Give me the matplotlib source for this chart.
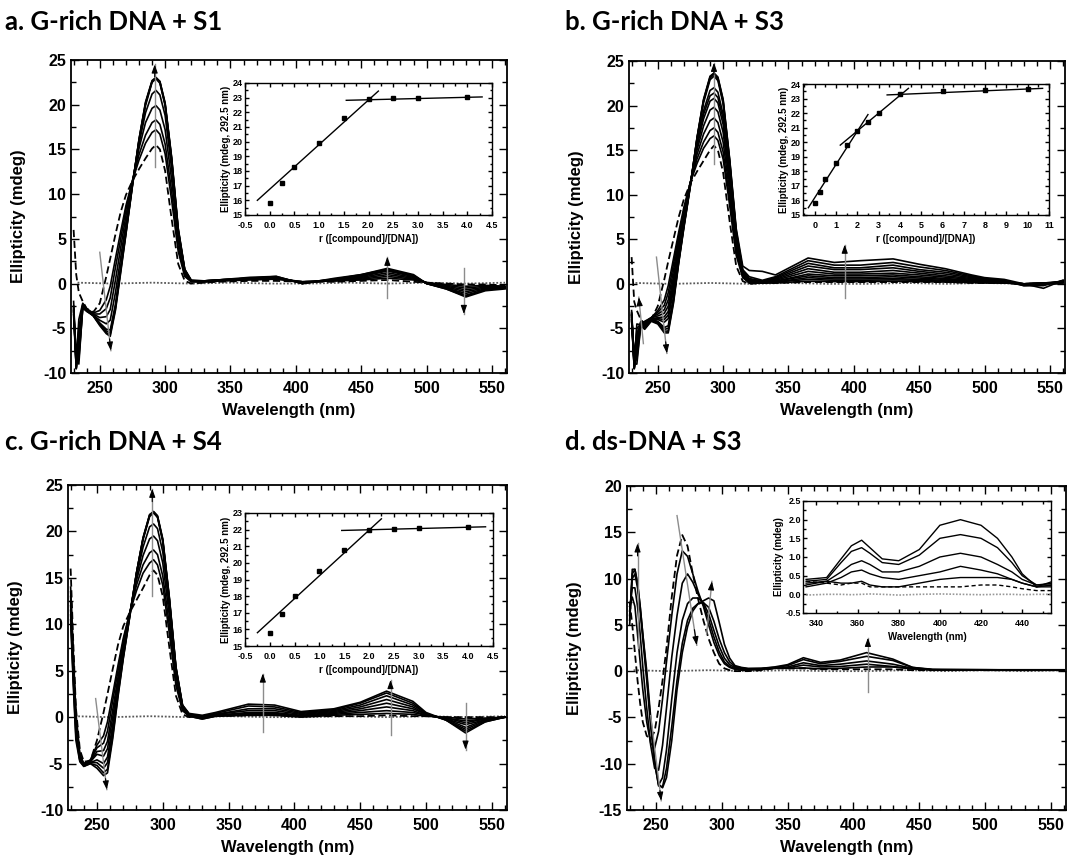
import matplotlib
matplotlib.use('Agg')
import matplotlib.pyplot as plt
from matplotlib.ticker import MultipleLocator, FormatStrFormatter

plt.rcParams['font.family'] = ['Liberation Sans', 'DejaVu Sans']
plt.rcParams['font.weight'] = 'bold'
plt.rcParams['axes.labelweight'] = 'bold'
plt.rcParams['axes.unicode_minus'] = False

# ---- wavelength grids (nm) ----
WL_G_UV = [230, 232, 234, 237, 240, 245, 250, 255, 258, 262, 266, 270, 275, 280,
           285, 290, 293, 296, 300, 305, 310, 315]
WL_G_VIS = [320, 330, 340, 365, 385, 405, 430, 450, 470, 490, 500, 515, 530, 545, 560]

# ---- a. G-rich DNA + S1 ----
A_DASH_UV = [6.0, 1.0, -1.0, -2.0, -2.8, -3.2, -2.2, 0.8, 2.8, 5.5, 8.0, 9.9, 11.5, 12.8,
             14.0, 15.1, 15.5, 15.0, 12.6, 7.2, 2.2, 0.3]
A_DASH_VIS = [0.0, 0.1, 0.2, 0.3, 0.3, 0.2, 0.2, 0.3, 0.4, 0.2, 0.1, 0.0, -0.1, -0.1, -0.2]
A_UV = [
    [-2.5, -8.5, -4.0, -2.2, -2.8, -3.3, -3.0, -1.8, -0.3, 2.8, 5.8, 8.7, 11.5, 13.8, 15.7, 16.9, 17.2, 16.7, 14.5, 9.3, 3.6, 0.8],
    [-3.0, -9.5, -6.0, -2.5, -2.9, -3.4, -3.4, -2.8, -1.6, 1.8, 5.0, 8.3, 11.5, 14.4, 16.6, 18.0, 18.3, 17.8, 15.6, 10.3, 4.1, 0.9],
    [-2.0, -9.0, -8.5, -2.8, -3.0, -3.4, -3.8, -3.7, -2.9, 0.4, 4.0, 7.6, 11.4, 15.1, 18.0, 19.6, 19.9, 19.4, 17.2, 11.6, 4.8, 1.1],
    [-3.5, -9.5, -5.0, -2.3, -3.0, -3.5, -4.1, -4.5, -4.1, -1.0, 2.9, 6.8, 11.3, 15.6, 19.1, 21.2, 21.6, 21.1, 18.8, 12.8, 5.4, 1.3],
    [-3.0, -8.0, -9.0, -2.6, -3.1, -3.5, -4.4, -5.1, -5.2, -2.3, 1.9, 6.0, 11.1, 15.9, 19.9, 22.5, 22.9, 22.4, 19.9, 13.7, 5.9, 1.5],
    [-2.8, -9.5, -7.0, -2.4, -3.0, -3.6, -4.5, -5.3, -5.5, -2.6, 1.6, 5.7, 11.0, 16.0, 20.1, 22.6, 23.0, 22.5, 20.0, 13.9, 6.0, 1.5],
    [-3.2, -9.0, -8.0, -2.7, -3.1, -3.6, -4.6, -5.5, -5.7, -2.8, 1.4, 5.6, 11.0, 16.1, 20.2, 22.6, 23.0, 22.6, 20.1, 14.0, 6.1, 1.6],
    [-2.6, -9.5, -6.5, -2.5, -3.0, -3.6, -4.7, -5.6, -5.9, -3.0, 1.2, 5.5, 10.9, 16.1, 20.3, 22.7, 23.05, 22.6, 20.2, 14.1, 6.2, 1.6],
]
A_VIS = [
    [0.2, 0.2, 0.3, 0.4, 0.5, 0.2, 0.3, 0.4, 0.6, 0.4, 0.1, -0.1, -0.3, -0.2, -0.3],
    [0.2, 0.2, 0.3, 0.5, 0.5, 0.2, 0.3, 0.5, 0.8, 0.5, 0.1, -0.2, -0.5, -0.3, -0.3],
    [0.3, 0.2, 0.3, 0.5, 0.6, 0.2, 0.4, 0.6, 1.0, 0.6, 0.1, -0.3, -0.7, -0.4, -0.4],
    [0.3, 0.3, 0.3, 0.5, 0.6, 0.1, 0.4, 0.7, 1.2, 0.7, 0.1, -0.4, -0.9, -0.5, -0.4],
    [0.3, 0.3, 0.4, 0.6, 0.7, 0.1, 0.5, 0.8, 1.4, 0.8, 0.0, -0.5, -1.1, -0.6, -0.5],
    [0.3, 0.3, 0.4, 0.6, 0.7, 0.0, 0.5, 0.9, 1.5, 0.9, 0.0, -0.5, -1.3, -0.7, -0.5],
    [0.3, 0.3, 0.4, 0.6, 0.8, 0.0, 0.5, 1.0, 1.6, 0.9, 0.0, -0.6, -1.4, -0.7, -0.5],
    [0.4, 0.3, 0.4, 0.7, 0.8, 0.0, 0.6, 1.0, 1.7, 1.0, 0.0, -0.6, -1.5, -0.8, -0.6],
]
A_ARROWS = [((292, 13.0), (292, 24.5)), ((250, 3.5), (258.5, -7.5)),
            ((470, -1.6), (470, 3.0)), ((528.5, 1.7), (528.5, -3.4))]

# ---- b. G-rich DNA + S3 ----
B_DASH_UV = [3.0, -2.0, -3.0, -4.0, -4.5, -4.0, -2.5, 0.5, 2.5, 5.0, 7.5, 9.5, 11.3, 12.6,
             13.8, 15.0, 15.5, 15.0, 12.5, 7.0, 2.0, 0.3]
B_DASH_VIS = [0.0, 0.1, 0.1, 0.2, 0.2, 0.2, 0.2, 0.2, 0.2, 0.1, 0.1, 0.1, 0.0, 0.0, 0.0]
B_UV = [
    [-3.5, -9.0, -5.0, -4.5, -4.2, -3.8, -3.0, -1.8, -0.2, 2.8, 5.8, 8.6, 11.4, 13.5, 15.2, 16.3, 16.6, 16.1, 14.0, 8.8, 3.2, 0.7],
    [-3.0, -8.5, -6.0, -4.3, -4.3, -3.8, -3.2, -2.4, -1.0, 2.2, 5.3, 8.3, 11.4, 14.0, 15.9, 17.2, 17.5, 17.0, 14.8, 9.5, 3.6, 0.8],
    [-4.0, -9.5, -4.5, -4.6, -4.4, -3.8, -3.4, -2.9, -1.8, 1.5, 4.8, 8.0, 11.4, 14.5, 16.8, 18.3, 18.6, 18.1, 15.9, 10.3, 4.0, 0.9],
    [-3.2, -9.0, -7.0, -4.2, -4.5, -3.8, -3.6, -3.3, -2.5, 0.8, 4.3, 7.7, 11.4, 15.0, 17.7, 19.5, 19.8, 19.3, 17.0, 11.1, 4.4, 1.0],
    [-3.8, -8.0, -5.5, -4.7, -4.6, -3.9, -3.8, -3.7, -3.1, 0.2, 3.9, 7.4, 11.3, 15.4, 18.5, 20.5, 20.8, 20.3, 17.9, 11.8, 4.8, 1.1],
    [-3.3, -9.5, -8.0, -4.4, -4.7, -3.9, -3.9, -4.0, -3.5, -0.3, 3.6, 7.2, 11.3, 15.6, 19.0, 21.1, 21.4, 20.9, 18.5, 12.2, 5.0, 1.2],
    [-4.2, -9.0, -6.5, -4.8, -4.8, -4.0, -4.0, -4.3, -3.9, -0.7, 3.3, 7.0, 11.2, 15.8, 19.4, 21.7, 22.0, 21.5, 19.0, 12.6, 5.2, 1.2],
    [-3.6, -9.5, -7.5, -4.3, -4.9, -4.0, -4.2, -4.9, -4.7, -1.5, 2.7, 6.6, 11.2, 16.2, 20.3, 22.9, 23.3, 22.8, 20.2, 13.5, 5.7, 1.4],
    [-3.4, -8.5, -8.5, -4.6, -5.0, -4.1, -4.3, -5.1, -5.0, -1.8, 2.5, 6.5, 11.1, 16.3, 20.5, 23.1, 23.5, 23.0, 20.4, 13.7, 5.8, 1.5],
    [-4.0, -9.5, -6.0, -4.5, -5.0, -4.1, -4.4, -5.3, -5.3, -2.0, 2.4, 6.4, 11.1, 16.3, 20.6, 23.2, 23.6, 23.1, 20.6, 13.9, 6.0, 1.6],
    [-3.5, -9.0, -9.0, -4.7, -5.1, -4.2, -4.5, -5.5, -5.5, -2.2, 2.3, 6.3, 11.0, 16.4, 20.7, 23.3, 23.65, 23.2, 20.7, 14.0, 6.2, 2.0],
]
B_VIS = [
    [0.1, 0.1, 0.1, 0.3, 0.25, 0.25, 0.3, 0.25, 0.2, 0.15, 0.1, 0.1, 0.0, 0.0, 0.1],
    [0.1, 0.1, 0.2, 0.5, 0.4, 0.4, 0.45, 0.4, 0.3, 0.2, 0.15, 0.1, 0.0, 0.1, 0.1],
    [0.2, 0.1, 0.2, 0.7, 0.55, 0.55, 0.6, 0.5, 0.4, 0.3, 0.2, 0.1, 0.0, 0.1, 0.2],
    [0.2, 0.1, 0.3, 0.9, 0.7, 0.7, 0.8, 0.65, 0.5, 0.35, 0.25, 0.15, 0.0, 0.1, 0.2],
    [0.3, 0.2, 0.3, 1.1, 0.9, 0.9, 1.0, 0.8, 0.6, 0.4, 0.3, 0.15, 0.0, 0.1, 0.2],
    [0.3, 0.2, 0.4, 1.4, 1.1, 1.1, 1.2, 1.0, 0.75, 0.5, 0.35, 0.2, 0.0, 0.0, 0.2],
    [0.4, 0.2, 0.5, 1.7, 1.3, 1.3, 1.5, 1.2, 0.9, 0.6, 0.4, 0.2, -0.1, 0.0, 0.3],
    [0.5, 0.3, 0.6, 2.0, 1.6, 1.6, 1.8, 1.4, 1.1, 0.7, 0.5, 0.3, -0.1, 0.0, 0.3],
    [0.6, 0.3, 0.7, 2.3, 1.8, 1.8, 2.1, 1.6, 1.3, 0.8, 0.5, 0.3, -0.2, -0.1, 0.3],
    [0.8, 0.4, 0.8, 2.6, 2.1, 2.1, 2.4, 1.9, 1.5, 0.9, 0.6, 0.4, -0.2, -0.2, 0.4],
    [1.5, 1.4, 1.0, 2.9, 2.4, 2.6, 2.8, 2.2, 1.7, 1.0, 0.7, 0.5, 0.0, -0.5, 0.4],
]
B_ARROWS = [((293, 13.5), (293, 24.8)), ((249, 3.0), (257, -7.8)),
            ((239, -6.7), (235.5, -1.5)), ((393, -1.6), (393, 4.4))]

# ---- c. G-rich DNA + S4 ----
C_DASH_UV = [16.0, 8.0, 1.0, -3.5, -4.8, -4.7, -2.5, 0.5, 2.5, 5.2, 7.8, 9.8, 11.3, 12.6,
             13.9, 15.3, 15.8, 15.3, 13.0, 7.5, 2.3, 0.3]
C_DASH_VIS = [0.0, 0.1, 0.1, 0.2, 0.2, 0.1, 0.1, 0.1, 0.2, 0.1, 0.1, 0.0, 0.0, 0.0, 0.0]
C_UV = [
    [14.0, 7.0, 0.5, -4.0, -5.0, -4.6, -3.0, -2.0, -0.5, 2.5, 5.6, 8.5, 11.3, 13.6, 15.5, 16.6, 16.95, 16.4, 14.2, 9.0, 3.4, 0.7],
    [13.5, 6.5, 0.0, -4.2, -5.0, -4.7, -3.3, -2.8, -1.5, 1.8, 5.0, 8.2, 11.3, 14.2, 16.4, 17.7, 18.0, 17.5, 15.2, 9.9, 3.8, 0.8],
    [13.0, 6.0, 0.0, -4.3, -5.1, -4.8, -3.7, -3.6, -2.6, 0.8, 4.3, 7.7, 11.2, 14.7, 17.4, 19.2, 19.5, 19.0, 16.6, 10.9, 4.4, 1.0],
    [12.5, 5.5, -0.5, -4.4, -5.1, -4.8, -4.0, -4.2, -3.4, 0.0, 3.7, 7.3, 11.2, 15.1, 18.3, 20.5, 20.8, 20.3, 17.8, 11.8, 4.8, 1.1],
    [12.0, 5.0, -1.0, -4.5, -5.2, -4.9, -4.6, -5.0, -4.3, -0.8, 3.0, 6.8, 11.1, 15.5, 19.1, 21.6, 22.0, 21.5, 18.9, 12.6, 5.2, 1.2],
    [11.5, 4.5, -1.5, -4.6, -5.2, -4.9, -4.9, -5.5, -4.9, -1.4, 2.7, 6.6, 11.0, 15.5, 19.2, 21.7, 22.05, 21.6, 19.0, 12.7, 5.3, 1.2],
    [11.0, 4.0, -2.0, -4.7, -5.3, -5.0, -5.2, -6.0, -5.6, -2.0, 2.4, 6.4, 10.9, 15.5, 19.3, 21.8, 22.1, 21.6, 19.1, 12.8, 5.4, 1.3],
    [10.5, 3.5, -2.5, -4.8, -5.3, -5.0, -5.5, -6.3, -6.0, -2.3, 2.2, 6.3, 10.9, 15.5, 19.3, 21.8, 22.15, 21.7, 19.2, 12.9, 5.4, 1.3],
]
C_VIS = [
    [0.1, -0.2, 0.1, 0.2, 0.2, 0.0, 0.2, 0.3, 0.4, 0.3, 0.1, 0.0, -0.2, -0.1, 0.0],
    [0.1, -0.2, 0.1, 0.3, 0.3, 0.1, 0.3, 0.5, 0.7, 0.5, 0.2, -0.1, -0.4, -0.2, 0.0],
    [0.2, -0.1, 0.2, 0.4, 0.4, 0.1, 0.4, 0.7, 1.1, 0.7, 0.2, -0.1, -0.6, -0.2, 0.0],
    [0.2, 0.0, 0.2, 0.5, 0.5, 0.2, 0.5, 0.9, 1.5, 0.9, 0.3, -0.2, -0.8, -0.3, 0.0],
    [0.3, 0.0, 0.3, 0.7, 0.7, 0.3, 0.6, 1.1, 1.9, 1.1, 0.3, -0.2, -1.1, -0.3, 0.0],
    [0.3, 0.1, 0.3, 0.9, 0.9, 0.4, 0.7, 1.3, 2.3, 1.3, 0.4, -0.3, -1.3, -0.4, 0.0],
    [0.3, 0.1, 0.4, 1.2, 1.1, 0.5, 0.8, 1.5, 2.6, 1.5, 0.4, -0.3, -1.5, -0.5, 0.0],
    [0.4, 0.2, 0.5, 1.4, 1.3, 0.6, 0.9, 1.6, 2.8, 1.7, 0.5, -0.3, -1.7, -0.5, 0.0],
]
C_ARROWS = [((292, 13.0), (292, 24.6)), ((249, 2.0), (257.5, -7.8)),
            ((376, -1.6), (376, 4.7)), ((473, -1.9), (473, 4.0)),
            ((530, 1.5), (530, -3.5))]

# ---- d. ds-DNA + S3 ----
WL_D_UV = [230, 232, 234, 236, 238, 240, 243, 246, 249, 252, 255, 258, 262, 266, 270,
           274, 278, 282, 286, 290, 294, 298, 302, 306, 310]
WL_D_VIS = [315, 320, 330, 340, 350, 362, 375, 390, 410, 430, 445, 460, 500, 560]
D_DASH_UV = [7.5, 5.0, 2.0, -1.0, -3.5, -5.5, -7.0, -7.3, -6.5, -4.0, -1.0, 2.5, 8.0, 12.5,
             14.7, 13.5, 10.5, 7.8, 5.5, 3.5, 2.0, 0.8, 0.3, 0.1, 0.0]
D_DASH_VIS = [0.0, 0.0, 0.1, 0.3, 0.3, 0.3, 0.2, 0.2, 0.2, 0.2, 0.1, 0.1, 0.1, 0.1]
D_UV = [
    [7.0, 8.0, 7.0, 4.0, 1.0, -2.0, -5.5, -7.8, -8.3, -6.5, -3.0, 1.0, 6.0, 10.5, 13.0, 12.4, 10.5, 8.6, 7.0, 5.0, 3.1, 1.7, 0.8, 0.4, 0.2],
    [6.5, 9.0, 9.0, 7.0, 4.0, 0.5, -4.0, -8.0, -10.5, -10.7, -8.0, -4.0, 1.5, 6.0, 9.5, 10.5, 9.6, 8.3, 7.2, 5.6, 3.7, 2.1, 1.0, 0.5, 0.3],
    [6.0, 10.0, 10.5, 9.0, 6.5, 3.5, -1.0, -6.0, -10.0, -12.3, -11.5, -8.5, -3.0, 2.0, 5.5, 7.3, 7.9, 7.9, 7.4, 6.2, 4.4, 2.7, 1.4, 0.7, 0.4],
    [5.5, 10.5, 11.0, 9.5, 7.0, 4.0, -0.5, -5.5, -9.8, -12.4, -12.5, -10.5, -6.0, -1.0, 3.0, 5.5, 6.8, 7.3, 7.4, 6.9, 5.4, 3.5, 2.0, 1.0, 0.5],
    [5.0, 11.0, 11.0, 9.5, 7.0, 4.0, 0.0, -5.0, -9.5, -12.2, -12.6, -11.5, -7.5, -2.0, 2.0, 4.8, 6.5, 7.3, 7.6, 7.9, 7.6, 5.3, 2.9, 1.4, 0.6],
]
D_VIS = [
    [0.1, 0.1, 0.2, 0.35, 0.3, 0.35, 0.25, 0.3, 0.45, 0.45, 0.25, 0.15, 0.1, 0.1],
    [0.2, 0.2, 0.2, 0.3, 0.35, 0.65, 0.45, 0.5, 0.75, 0.5, 0.25, 0.15, 0.1, 0.1],
    [0.3, 0.2, 0.25, 0.35, 0.45, 0.9, 0.6, 0.75, 1.1, 0.75, 0.3, 0.15, 0.15, 0.1],
    [0.35, 0.25, 0.3, 0.4, 0.6, 1.25, 0.8, 1.05, 1.6, 1.15, 0.4, 0.15, 0.15, 0.1],
    [0.4, 0.3, 0.3, 0.45, 0.7, 1.45, 0.95, 1.2, 2.0, 1.3, 0.4, 0.2, 0.15, 0.15],
]
D_ARROWS = [((236, 2.5), (236, 13.8)), ((266, 16.8), (281, 2.8)),
            ((288.5, 4.0), (292.5, 9.7)), ((246, -4.8), (254, -14.0)),
            ((411, -2.3), (411, 3.6))]

# buffer / compound-only baseline (dotted)
BASE_WL = [233, 260, 290, 320, 350, 380, 410, 440, 470, 500, 530, 560]
BASE_Y = [0.1, 0.0, 0.1, 0.0, 0.1, 0.0, 0.0, 0.1, 0.0, 0.1, 0.0, 0.1]

# ---- insets: binding titrations at 292.5 nm ----
INA_R = [0, 0.25, 0.5, 1, 1.5, 2, 2.5, 3, 4]
INA_Y = [15.8, 17.2, 18.3, 19.9, 21.6, 22.9, 23.0, 23.0, 23.05]
INA_FITS = [([-0.25, 2.2], [16.0, 23.45]), ([1.55, 4.3], [22.82, 23.05])]

INB_R = [0, 0.25, 0.5, 1, 1.5, 2, 2.5, 3, 4, 6, 8, 10]
INB_Y = [15.8, 16.6, 17.5, 18.6, 19.8, 20.8, 21.4, 22.0, 23.3, 23.5, 23.6, 23.65]
INB_FITS = [([-0.3, 2.5], [15.5, 21.9]), ([1.2, 4.4], [19.8, 23.7]),
            ([3.4, 10.7], [23.25, 23.7])]

INC_R = [0, 0.25, 0.5, 1, 1.5, 2, 2.5, 3, 4]
INC_Y = [15.8, 16.95, 18.0, 19.5, 20.8, 22.0, 22.05, 22.1, 22.15]
INC_FITS = [([-0.25, 2.25], [15.8, 22.65]), ([1.45, 4.35], [21.95, 22.17])]

# inset d: zoom on the induced CD band
IND_WL = [335, 345, 352, 357, 362, 366, 372, 380, 390, 400, 410, 420, 428, 435, 440, 447, 455]
IND_DASH = [0.35, 0.3, 0.25, 0.3, 0.3, 0.2, 0.2, 0.2, 0.2, 0.2, 0.2, 0.25, 0.25, 0.2, 0.15, 0.1, 0.1]
IND_BASE = [-0.02, 0.0, 0.0, -0.01, 0.0, 0.01, 0.0, -0.02, 0.0, 0.01, 0.0, -0.01, 0.0, 0.0, -0.01, 0.0, 0.0]
IND_CURVES = [
    [0.25, 0.35, 0.3, 0.3, 0.35, 0.25, 0.2, 0.2, 0.3, 0.4, 0.45, 0.45, 0.45, 0.4, 0.3, 0.2, 0.25],
    [0.2, 0.3, 0.45, 0.6, 0.65, 0.55, 0.45, 0.4, 0.5, 0.6, 0.75, 0.65, 0.55, 0.4, 0.3, 0.2, 0.2],
    [0.3, 0.35, 0.6, 0.8, 0.9, 0.8, 0.6, 0.6, 0.75, 1.0, 1.1, 1.0, 0.8, 0.6, 0.4, 0.25, 0.25],
    [0.35, 0.4, 0.85, 1.15, 1.25, 1.1, 0.85, 0.8, 1.05, 1.5, 1.6, 1.5, 1.25, 0.85, 0.5, 0.25, 0.3],
    [0.4, 0.45, 0.95, 1.3, 1.45, 1.25, 0.95, 0.9, 1.2, 1.85, 2.0, 1.85, 1.5, 1.0, 0.55, 0.2, 0.35],
]

TITLES = ['a. G-rich DNA + S1', 'b. G-rich DNA + S3', 'c. G-rich DNA + S4', 'd. ds-DNA + S3']

W, H = 1067, 856


def rect(l, r, t, b):
    return [l / W, 1 - b / H, (r - l) / W, (b - t) / H]


def style_ticks(ax, size, major_len, minor_len):
    ax.tick_params(which='both', direction='in', top=True, right=True,
                   labelsize=size, width=1.0)
    ax.tick_params(which='major', length=major_len)
    ax.tick_params(which='minor', length=minor_len)
    for s in ax.spines.values():
        s.set_linewidth(1.3)


def draw_arrow(ax, start, end):
    ax.plot([start[0], end[0]], [start[1], end[1]], color='0.55', lw=1.0, zorder=5)
    bx = end[0] - 0.12 * (end[0] - start[0])
    by = end[1] - 0.12 * (end[1] - start[1])
    ax.annotate('', xy=end, xytext=(bx, by), zorder=6,
                arrowprops=dict(arrowstyle='-|>,head_length=0.5,head_width=0.18',
                                color='black', lw=0.8, shrinkA=0, shrinkB=0))


def draw_main(r, wl_uv, wl_vis, dash_uv, dash_vis, curves_uv, curves_vis,
              arrows, ylim, ymajor):
    ax = fig.add_axes(r)
    wl = wl_uv + wl_vis
    ax.plot(BASE_WL, BASE_Y, color='0.35', lw=1.3, ls=(0, (1, 1)))
    ax.plot(wl, dash_uv + dash_vis, color='black', lw=1.3, ls=(0, (4, 2)))
    for cu, cv in zip(curves_uv, curves_vis):
        ax.plot(wl, cu + cv, color='black', lw=1.2)
    for s, e in arrows:
        draw_arrow(ax, s, e)
    ax.set_xlim(228, 561.5)
    ax.set_ylim(*ylim)
    ax.xaxis.set_major_locator(MultipleLocator(50))
    ax.xaxis.set_minor_locator(MultipleLocator(10))
    ax.yaxis.set_major_locator(MultipleLocator(ymajor))
    ax.yaxis.set_minor_locator(MultipleLocator(ymajor / 2))
    style_ticks(ax, 11.5, 6, 3.5)
    ax.tick_params(axis='x', pad=6)
    ax.set_xlabel('Wavelength (nm)', fontsize=12, labelpad=5)
    ax.set_ylabel('Ellipticity (mdeg)', fontsize=12, labelpad=12)
    return ax


def draw_inset(r, xs, ys, fits, xlim, ylim, xmajor, xfmt):
    ax = fig.add_axes(r)
    for fx, fy in fits:
        ax.plot(fx, fy, color='black', lw=1.0)
    ax.plot(xs, ys, 's', color='black', ms=3.4)
    ax.set_xlim(*xlim)
    ax.set_ylim(*ylim)
    ax.xaxis.set_major_locator(MultipleLocator(xmajor))
    ax.xaxis.set_minor_locator(MultipleLocator(xmajor / 2))
    ax.xaxis.set_major_formatter(FormatStrFormatter(xfmt))
    ax.yaxis.set_major_locator(MultipleLocator(1))
    ax.yaxis.set_minor_locator(MultipleLocator(0.5))
    style_ticks(ax, 6.5, 3, 1.8)
    ax.tick_params(axis='y', pad=1.5)
    ax.tick_params(axis='x', pad=4.5)
    for s in ax.spines.values():
        s.set_linewidth(1.0)
    ax.set_xlabel('r ([compound]/[DNA])', fontsize=7, labelpad=3)
    ax.set_ylabel('Ellipticity (mdeg, 292.5 nm)', fontsize=7, labelpad=1)
    return ax


fig = plt.figure(figsize=(W / 100, H / 100), dpi=100)

draw_main(rect(71, 507, 60, 373), WL_G_UV, WL_G_VIS, A_DASH_UV, A_DASH_VIS,
          A_UV, A_VIS, A_ARROWS, (-10, 25), 5)
draw_main(rect(629, 1065, 61, 373), WL_G_UV, WL_G_VIS, B_DASH_UV, B_DASH_VIS,
          B_UV, B_VIS, B_ARROWS, (-10, 25), 5)
draw_main(rect(68, 507, 485, 810), WL_G_UV, WL_G_VIS, C_DASH_UV, C_DASH_VIS,
          C_UV, C_VIS, C_ARROWS, (-10, 25), 5)
draw_main(rect(627, 1066, 486, 810), WL_D_UV, WL_D_VIS, D_DASH_UV, D_DASH_VIS,
          D_UV, D_VIS, D_ARROWS, (-15, 20), 5)

draw_inset(rect(245, 492, 83, 215), INA_R, INA_Y, INA_FITS, (-0.5, 4.5), (15, 24), 0.5, '%.1f')
draw_inset(rect(803, 1049, 84, 215), INB_R, INB_Y, INB_FITS, (-0.55, 11), (15, 24), 1, '%d')
draw_inset(rect(245, 493, 513, 646), INC_R, INC_Y, INC_FITS, (-0.5, 4.5), (15, 23), 0.5, '%.1f')

axd = fig.add_axes(rect(803, 1051, 501, 613))
axd.plot(IND_WL, IND_BASE, color='0.6', lw=1.2, ls=(0, (1, 1)))
axd.plot(IND_WL, IND_DASH, color='black', lw=1.0, ls=(0, (3, 2)))
for cv in IND_CURVES:
    axd.plot(IND_WL, cv, color='black', lw=1.0)
axd.set_xlim(333.5, 454)
axd.set_ylim(-0.5, 2.5)
axd.xaxis.set_major_locator(MultipleLocator(20))
axd.xaxis.set_minor_locator(MultipleLocator(10))
axd.yaxis.set_major_locator(MultipleLocator(0.5))
axd.yaxis.set_minor_locator(MultipleLocator(0.25))
axd.yaxis.set_major_formatter(FormatStrFormatter('%.1f'))
style_ticks(axd, 6.5, 3, 1.8)
axd.tick_params(axis='y', pad=1.5)
axd.tick_params(axis='x', pad=4.5)
for s in axd.spines.values():
    s.set_linewidth(1.0)
axd.set_xlabel('Wavelength (nm)', fontsize=7, labelpad=3)
axd.set_ylabel('Ellipticity (mdeg)', fontsize=7, labelpad=1)

for txt, x, y in zip(TITLES, [5, 565, 5, 565], [22, 22, 442, 442]):
    fig.text(x / W, 1 - y / H, txt, fontsize=18.5, fontweight='bold',
             family=['Lato', 'DejaVu Sans'], va='center', ha='left')

fig.savefig('out.png', dpi=100)
